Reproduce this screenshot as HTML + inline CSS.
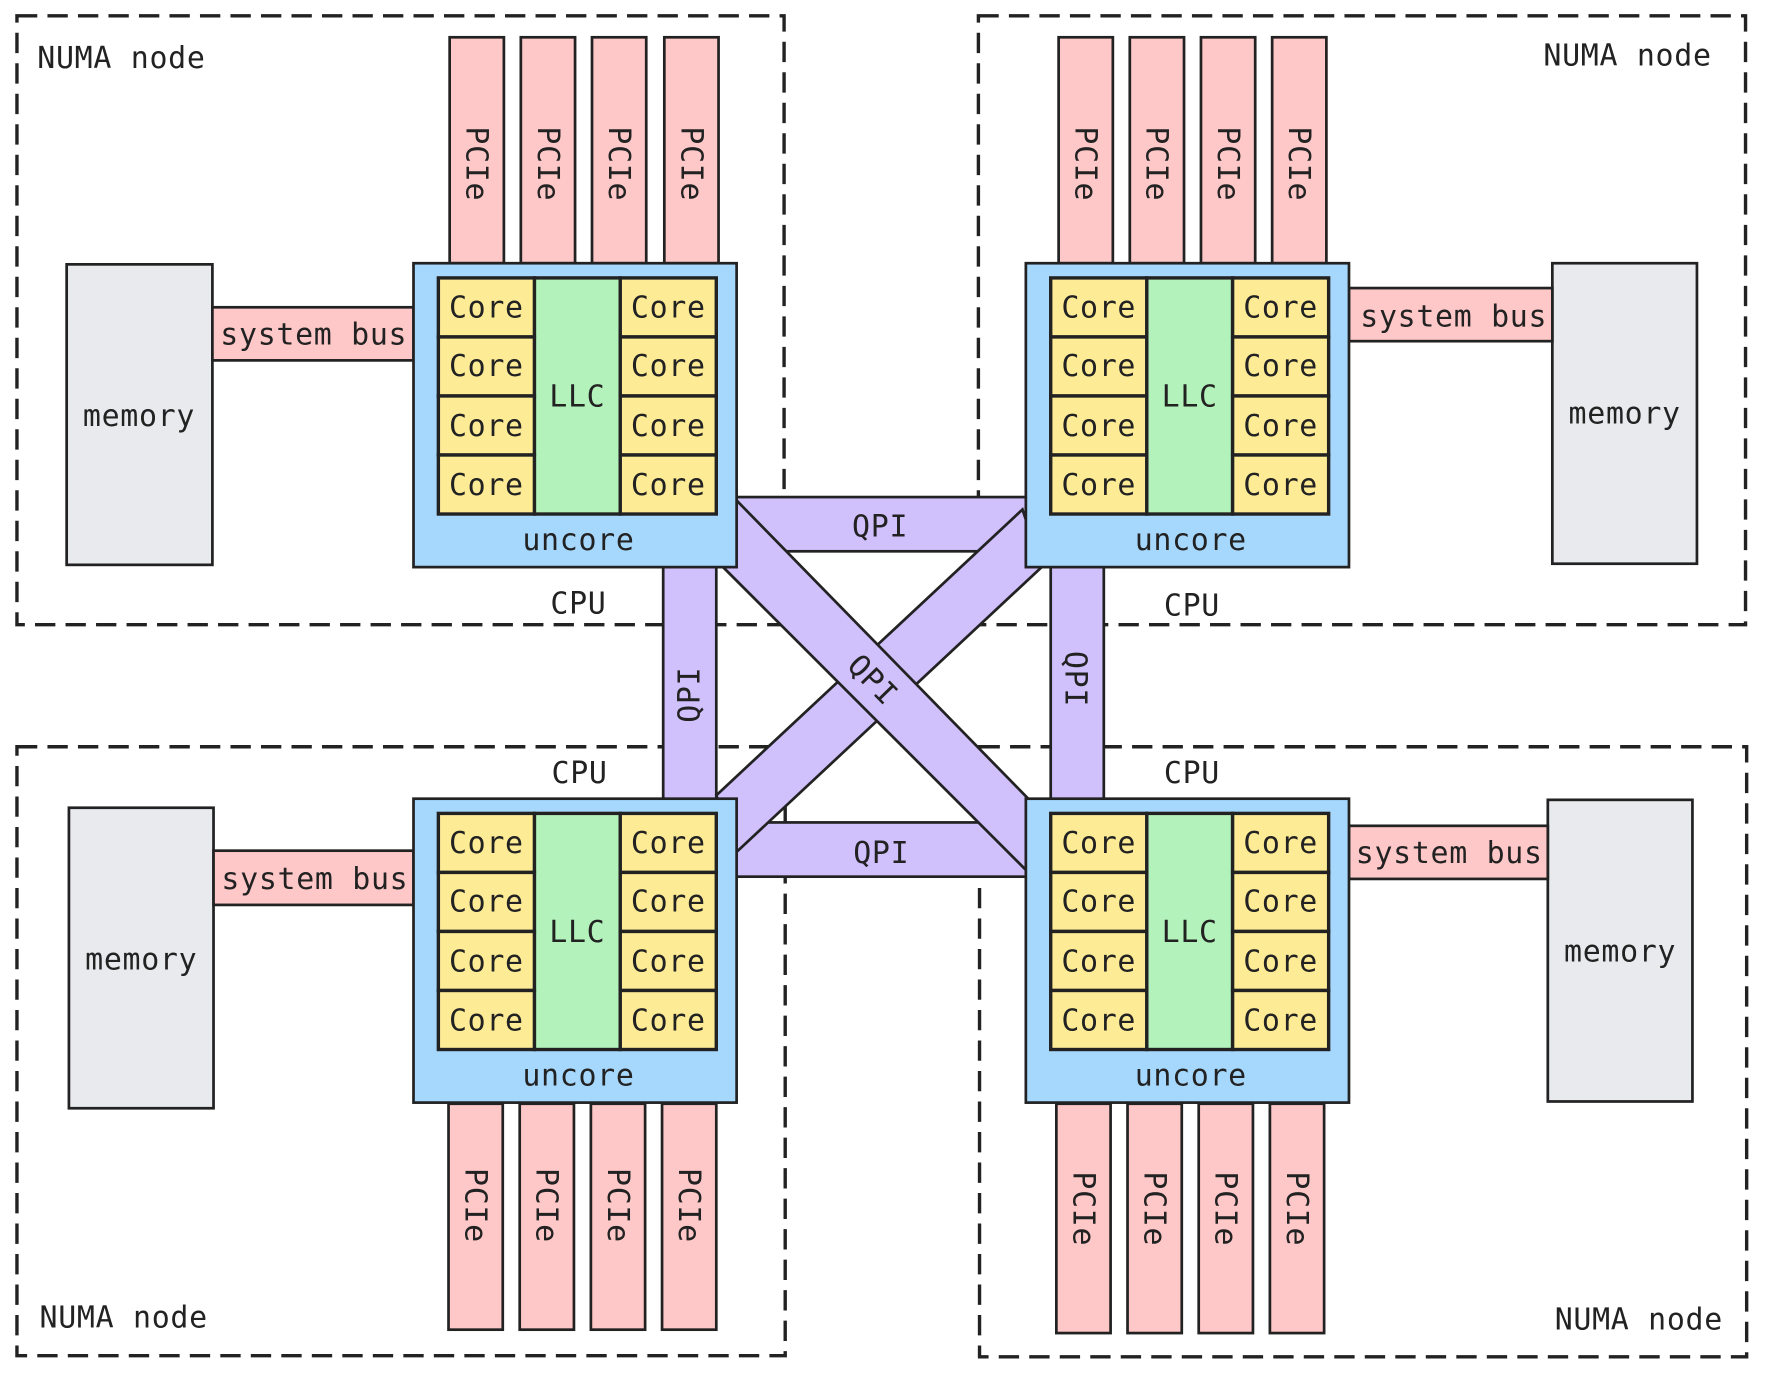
<!DOCTYPE html>
<html><head><meta charset="utf-8"><style>
html,body{margin:0;padding:0;background:#fff;}
svg{display:block;}
text{font-family:"DejaVu Sans Mono","Liberation Mono",monospace;font-size:26.5px;fill:#222;letter-spacing:0.6px;}
.s{stroke:#222;stroke-width:2.4;}
.pk{fill:#ffc8c8;}
.mem{fill:#e8eaed;}
.cpu{fill:#a6d8fd;}
.core{fill:#fdeb96;stroke:#222;stroke-width:3;}
.llc{fill:#b3f2bb;stroke:#222;stroke-width:3;}
.q{fill:#d0c0fc;stroke:#222;stroke-width:2.4;}
.d{fill:none;stroke:#222;stroke-width:3;stroke-dasharray:18 9;}
</style></head><body>
<svg width="1767" height="1376" viewBox="0 0 1564 1218" preserveAspectRatio="none">
<defs>
<g id="cpu">
<rect class="cpu s" x="0" y="0" width="286" height="269"/>
<rect class="llc" x="107" y="13" width="76" height="209"/>
<rect class="core" x="22" y="13" width="85" height="52.25"/>
<rect class="core" x="22" y="65.25" width="85" height="52.25"/>
<rect class="core" x="22" y="117.5" width="85" height="52.25"/>
<rect class="core" x="22" y="169.75" width="85" height="52.25"/>
<rect class="core" x="183" y="13" width="85" height="52.25"/>
<rect class="core" x="183" y="65.25" width="85" height="52.25"/>
<rect class="core" x="183" y="117.5" width="85" height="52.25"/>
<rect class="core" x="183" y="169.75" width="85" height="52.25"/>
<g text-anchor="middle">
<text x="64.5" y="48">Core</text><text x="64.5" y="100">Core</text><text x="64.5" y="153">Core</text><text x="64.5" y="205">Core</text>
<text x="225.5" y="48">Core</text><text x="225.5" y="100">Core</text><text x="225.5" y="153">Core</text><text x="225.5" y="205">Core</text>
<text x="145" y="127">LLC</text>
<text x="146" y="254">uncore</text>
</g>
</g>
</defs>

<rect class="d" x="15" y="14" width="679" height="539"/>
<rect class="d" x="866" y="14" width="679" height="539"/>
<rect class="d" x="15" y="661" width="680" height="539"/>
<rect class="d" x="867" y="661" width="679" height="540"/>
<text x="33" y="60">NUMA node</text>
<text x="1515" y="58" text-anchor="end">NUMA node</text>
<text x="35" y="1175">NUMA node</text>
<text x="1525" y="1177" text-anchor="end">NUMA node</text>

<rect class="q" x="640" y="440" width="280" height="48"/>
<rect class="q" x="640" y="728" width="280" height="48"/>
<rect class="q" x="587" y="495" width="47" height="220"/>
<rect class="q" x="930" y="495" width="47" height="220"/>
<polygon class="q" points="634,704 905,451 922,502 651,755"/>
<polygon class="q" points="652,443 915,712 908,770 640,502"/>
<text x="779" y="475" text-anchor="middle">QPI</text>
<text x="780" y="764" text-anchor="middle">QPI</text>
<text transform="translate(619,615) rotate(-90)" text-anchor="middle">QPI</text>
<text transform="translate(943,601) rotate(90)" text-anchor="middle">QPI</text>
<text transform="translate(766,608) rotate(45.7)" text-anchor="middle">QPI</text>

<rect class="pk s" x="398" y="33" width="48" height="200"/>
<rect class="pk s" x="461" y="33" width="48" height="200"/>
<rect class="pk s" x="524" y="33" width="48" height="200"/>
<rect class="pk s" x="588" y="33" width="48" height="200"/>
<rect class="pk s" x="937" y="33" width="48" height="200"/>
<rect class="pk s" x="1000" y="33" width="48" height="200"/>
<rect class="pk s" x="1063" y="33" width="48" height="200"/>
<rect class="pk s" x="1126" y="33" width="48" height="200"/>
<rect class="pk s" x="397" y="977" width="48" height="200"/>
<rect class="pk s" x="460" y="977" width="48" height="200"/>
<rect class="pk s" x="523" y="977" width="48" height="200"/>
<rect class="pk s" x="586" y="977" width="48" height="200"/>
<rect class="pk s" x="935" y="977" width="48" height="203"/>
<rect class="pk s" x="998" y="977" width="48" height="203"/>
<rect class="pk s" x="1061" y="977" width="48" height="203"/>
<rect class="pk s" x="1124" y="977" width="48" height="203"/>
<g text-anchor="middle">
<text transform="translate(413,145) rotate(90)">PCIe</text>
<text transform="translate(476,145) rotate(90)">PCIe</text>
<text transform="translate(539,145) rotate(90)">PCIe</text>
<text transform="translate(603,145) rotate(90)">PCIe</text>
<text transform="translate(952,145) rotate(90)">PCIe</text>
<text transform="translate(1015,145) rotate(90)">PCIe</text>
<text transform="translate(1078,145) rotate(90)">PCIe</text>
<text transform="translate(1141,145) rotate(90)">PCIe</text>
<text transform="translate(412,1067) rotate(90)">PCIe</text>
<text transform="translate(475,1067) rotate(90)">PCIe</text>
<text transform="translate(538,1067) rotate(90)">PCIe</text>
<text transform="translate(601,1067) rotate(90)">PCIe</text>
<text transform="translate(950,1070) rotate(90)">PCIe</text>
<text transform="translate(1013,1070) rotate(90)">PCIe</text>
<text transform="translate(1076,1070) rotate(90)">PCIe</text>
<text transform="translate(1139,1070) rotate(90)">PCIe</text>
</g>

<rect class="mem s" x="59" y="234" width="129" height="266"/>
<rect class="pk s" x="188" y="272" width="178" height="47"/>
<text x="195" y="305">system bus</text>
<text x="123" y="377" text-anchor="middle">memory</text>

<rect class="mem s" x="1374" y="233" width="128" height="266"/>
<rect class="pk s" x="1194" y="255" width="180" height="47"/>
<text x="1204" y="289">system bus</text>
<text x="1438" y="375" text-anchor="middle">memory</text>

<rect class="mem s" x="61" y="715" width="128" height="266"/>
<rect class="pk s" x="189" y="753" width="177" height="48"/>
<text x="196" y="787">system bus</text>
<text x="125" y="858" text-anchor="middle">memory</text>

<rect class="mem s" x="1370" y="708" width="128" height="267"/>
<rect class="pk s" x="1194" y="731" width="176" height="47"/>
<text x="1200" y="764">system bus</text>
<text x="1434" y="851" text-anchor="middle">memory</text>

<use href="#cpu" x="366" y="233"/>
<use href="#cpu" x="908" y="233"/>
<use href="#cpu" x="366" y="707"/>
<use href="#cpu" x="908" y="707"/>
<g text-anchor="middle">
<text x="512" y="543">CPU</text>
<text x="1055" y="545">CPU</text>
<text x="513" y="693">CPU</text>
<text x="1055" y="693">CPU</text>
</g>
</svg>
</body></html>
